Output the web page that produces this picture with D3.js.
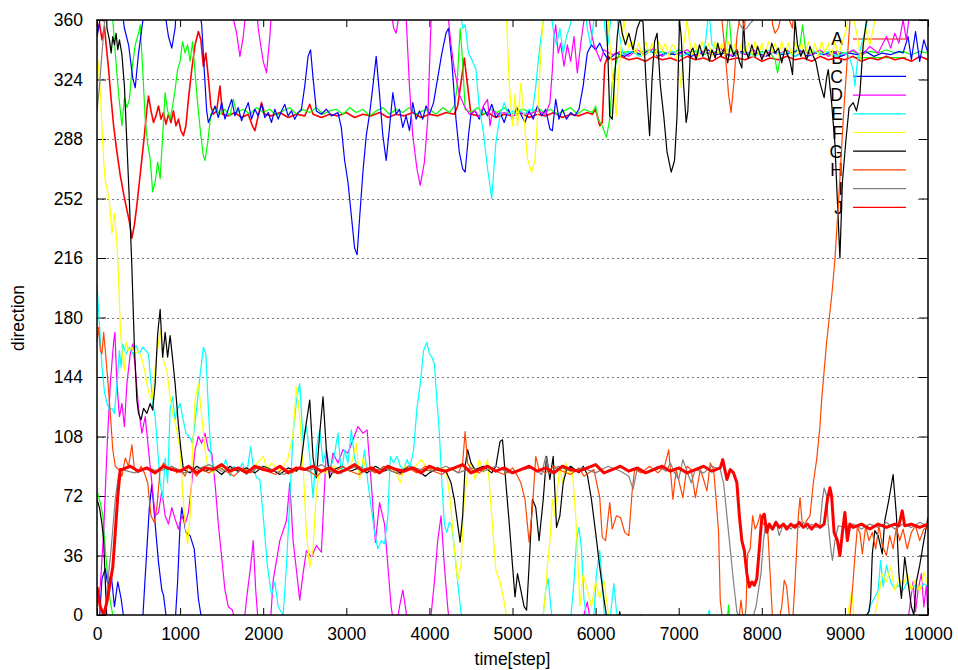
<!DOCTYPE html>
<html>
<head>
<meta charset="utf-8">
<script src="https://cdn.jsdelivr.net/npm/d3@7"></script>
<style>
  body { margin: 0; background: #fff; }
  text { font-family: "Liberation Sans", Arial, sans-serif; }
</style>
</head>
<body>
<div id="chart"></div>
<script>
// ---- data (direction values are kept continuous; values past 0/360 wrap around) ----
const seriesNames = ['A', 'B', 'C', 'D', 'E', 'F', 'G', 'H', 'I', 'J'];
const seriesColors = ['#ff0000', '#00ff00', '#0000ff', '#ff00ff', '#00ffff', '#ffff00', '#000000', '#ff4500', '#808080', '#ff0000'];
const xTicks = [0, 1000, 2000, 3000, 4000, 5000, 6000, 7000, 8000, 9000, 10000];
const yTicks = [0, 36, 72, 108, 144, 180, 216, 252, 288, 324, 360];

const seriesA = [[0,352],[30,358],[60,348],[90,356],[110,345],[140,330],[170,312],[200,296],[240,280],[280,266],[320,255],[360,245],[390,238],[420,228],[450,236],[480,248],[510,262],[540,276],[570,290],[600,306],[620,314],[650,305],[680,298],[710,302],[740,308],[770,300],[800,304],[830,297],[860,303],[890,298],[920,305],[950,296],[980,300],[1010,293],[1040,290],[1070,296],[1100,312],[1140,330],[1180,345],[1220,353],[1250,348],[1280,332],[1310,340],[1340,325],[1370,308],[1400,303],[1440,305],[1480,320],[1510,303],[1580,302],[1660,304],[1740,301],[1820,303],[1870,296],[1900,293],[1940,302],[1980,310],[2020,303],[2100,302],[2200,304],[2300,301],[2400,303],[2500,302],[2560,309],[2600,303],[2700,301],[2800,303],[2900,302],[3000,304],[3100,301],[3200,303],[3300,302],[3400,304],[3500,301],[3600,303],[3700,302],[3800,304],[3900,301],[4000,303],[4100,302],[4200,304],[4300,303],[4340,308],[4380,322],[4420,337],[4460,320],[4500,303],[4600,302],[4700,304],[4800,301],[4900,303],[5000,302],[5100,304],[5200,301],[5300,303],[5400,302],[5500,304],[5600,301],[5700,303],[5800,302],[5900,304],[5960,303],[6000,306],[6050,296],[6080,298],[6110,333],[6150,338],[6200,336],[6300,338],[6400,336],[6500,337],[6600,335],[6700,338],[6800,336],[6900,337],[7000,335],[7100,338],[7200,336],[7300,337],[7400,335],[7500,338],[7600,336],[7700,337],[7800,336],[7900,338],[8000,335],[8100,337],[8200,336],[8300,338],[8400,336],[8500,337],[8600,335],[8700,338],[8800,336],[8900,337],[9000,336],[9100,338],[9200,335],[9300,337],[9400,336],[9500,338],[9600,336],[9700,337],[9800,335],[9900,338],[10000,336]];

const seriesB = [[0,435],[40,428],[70,420],[100,400],[130,382],[160,368],[190,360],[220,340],[260,315],[300,296],[330,313],[360,307],[390,312],[420,330],[460,345],[500,352],[520,357],[550,330],[580,300],[610,285],[640,276],[670,256],[700,262],[730,274],[760,264],[790,290],[820,316],[850,305],[880,300],[910,308],[940,318],[970,330],[1000,335],[1030,347],[1060,340],[1090,345],[1120,335],[1150,347],[1180,328],[1210,310],[1250,290],[1280,278],[1300,275],[1330,285],[1370,303],[1420,307],[1480,303],[1540,306],[1600,302],[1640,312],[1680,304],[1760,306],[1840,303],[1920,307],[2000,304],[2080,306],[2160,302],[2240,305],[2320,307],[2400,303],[2480,306],[2560,304],[2640,307],[2720,303],[2800,305],[2880,306],[2960,303],[3040,307],[3120,304],[3200,306],[3280,302],[3360,305],[3440,307],[3520,303],[3600,306],[3680,304],[3760,307],[3840,303],[3920,305],[4000,306],[4080,303],[4160,307],[4240,304],[4300,308],[4330,318],[4370,355],[4400,335],[4430,306],[4500,304],[4580,307],[4660,303],[4740,306],[4820,304],[4900,307],[4980,303],[5060,305],[5140,306],[5220,303],[5300,307],[5380,304],[5460,306],[5540,303],[5620,305],[5700,307],[5780,303],[5860,306],[5960,304],[6000,308],[6030,300],[6080,296],[6130,289],[6170,300],[6200,322],[6250,335],[6290,340],[6400,341],[6500,339],[6600,342],[6700,340],[6800,341],[6900,339],[7000,342],[7100,340],[7200,341],[7300,339],[7400,341],[7500,340],[7560,342],[7600,366],[7640,342],[7700,340],[7800,341],[7900,339],[8000,341],[8100,340],[8160,336],[8190,328],[8230,340],[8300,341],[8400,340],[8460,345],[8490,357],[8530,341],[8600,340],[8700,341],[8800,339],[8900,341],[9000,340],[9100,341],[9200,339],[9300,341],[9400,340],[9500,342],[9600,340],[9700,341],[9800,339],[9900,341],[10000,340]];

const seriesC = [[0,350],[30,358],[60,382],[100,388],[130,378],[170,385],[210,365],[250,380],[290,370],[330,355],[380,345],[430,325],[460,319],[500,340],[553,360],[600,400],[630,425],[660,439],[700,415],[740,392],[780,375],[800,372],[830,360],[860,350],[900,343],[940,355],[970,380],[1000,415],[1020,425],[1070,410],[1120,408],[1170,400],[1220,370],[1260,357],[1290,330],[1320,305],[1340,298],[1380,303],[1420,308],[1460,301],[1500,310],[1540,300],[1580,306],[1620,312],[1660,302],[1700,307],[1740,299],[1780,305],[1820,310],[1860,300],[1900,306],[1940,302],[1980,309],[2020,301],[2060,304],[2100,298],[2140,306],[2180,300],[2220,305],[2260,309],[2300,302],[2340,305],[2380,300],[2420,304],[2460,306],[2500,320],[2540,338],[2570,342],[2600,325],[2640,305],[2700,303],[2760,306],[2820,302],[2900,304],[2940,295],[2980,275],[3020,262],[3060,242],[3100,222],[3130,218],[3160,240],[3200,268],[3240,290],[3280,303],[3320,320],[3360,338],[3400,315],[3440,290],[3480,275],[3520,295],[3560,316],[3600,303],[3640,306],[3680,295],[3720,302],[3760,293],[3800,310],[3840,300],[3880,305],[3920,300],[3960,308],[4000,303],[4050,310],[4100,325],[4150,340],[4200,352],[4230,355],[4270,335],[4320,300],[4360,280],[4400,270],[4430,268],[4470,290],[4500,303],[4550,305],[4600,300],[4650,307],[4700,302],[4750,309],[4800,301],[4850,304],[4900,298],[4950,306],[5000,300],[5050,307],[5100,303],[5150,298],[5200,305],[5250,300],[5300,308],[5350,302],[5400,306],[5450,294],[5480,293],[5520,312],[5560,300],[5600,306],[5650,300],[5700,304],[5750,302],[5800,306],[5850,320],[5900,340],[5950,345],[6000,342],[6050,346],[6100,340],[6150,336],[6250,340],[6350,338],[6450,341],[6550,339],[6650,342],[6750,338],[6850,340],[6950,339],[7050,341],[7150,338],[7250,340],[7350,342],[7450,339],[7550,340],[7650,338],[7750,341],[7850,339],[7950,340],[8050,338],[8150,341],[8250,339],[8350,340],[8450,342],[8550,338],[8650,340],[8750,339],[8850,341],[8950,338],[9050,340],[9150,339],[9250,341],[9350,338],[9450,340],[9550,339],[9650,341],[9700,340],[9760,350],[9800,336],[9850,353],[9900,335],[9950,348],[10000,340]];

const seriesD = [[0,5],[40,18],[80,50],[120,100],[160,140],[200,165],[215,171],[240,140],[270,120],[300,128],[330,114],[360,140],[400,158],[430,164],[460,150],[500,125],[540,110],[580,120],[620,100],[660,80],[700,60],[740,62],[780,75],[820,60],[860,55],[900,65],[940,58],[980,52],[1020,60],[1060,55],[1100,62],[1140,80],[1180,100],[1220,108],[1260,104],[1300,110],[1340,100],[1380,98],[1420,80],[1460,55],[1500,35],[1540,15],[1580,5],[1630,3],[1680,-8],[1720,-22],[1760,-10],[1800,10],[1850,30],[1880,45],[1910,15],[1940,-5],[2000,-25],[2040,-32],[2080,-10],[2120,21],[2200,45],[2280,57],[2320,80],[2360,45],[2440,9],[2480,25],[2520,39],[2580,35],[2640,42],[2700,38],[2760,100],[2800,85],[2840,98],[2900,92],[2960,100],[3020,98],[3080,106],[3140,114],[3200,110],[3250,112],[3300,80],[3350,44],[3400,68],[3460,55],[3500,30],[3540,5],[3570,-5],[3600,-8],[3640,5],[3680,15],[3720,2],[3760,-40],[3800,-70],[3850,-90],[3890,-100],[3940,-86],[3980,-60],[4000,-30],[4020,0],[4060,20],[4100,45],[4140,60],[4180,30],[4220,5],[4260,-15],[4300,-30],[4360,-45],[4420,-52],[4480,-57],[4550,-55],[4600,-59],[4650,-52],[4700,-48],[4730,-64],[4760,-55],[4820,-57],[4900,-56],[5000,-58],[5100,-56],[5200,-57],[5300,-55],[5400,-57],[5450,-50],[5480,-30],[5500,-10],[5520,-3],[5550,-20],[5580,-14],[5620,-28],[5660,-15],[5700,-25],[5740,-10],[5780,-32],[5820,-15],[5860,0],[5900,8],[5940,-5],[5980,-15],[6020,-20],[6060,-25],[6100,-18],[6200,-21],[6300,-19],[6400,-22],[6500,-18],[6600,-21],[6700,-17],[6800,-22],[6900,-19],[7000,-21],[7100,-18],[7200,-22],[7300,-19],[7400,-21],[7500,-17],[7600,-22],[7700,-19],[7800,-21],[7900,-18],[8000,-22],[8100,-19],[8200,-21],[8300,-18],[8400,-22],[8500,-19],[8600,-21],[8700,-18],[8800,-22],[8900,-19],[9000,-21],[9100,-18],[9200,-22],[9300,-16],[9400,-20],[9450,-15],[9500,-10],[9550,-17],[9600,-8],[9650,-14],[9700,0],[9740,-12],[9780,5],[9820,20],[9850,2],[9880,15],[9920,25],[9950,5],[9980,18],[10000,0]];

const seriesE = [[0,200],[30,175],[60,150],[90,135],[120,128],[150,124],[180,125],[210,122],[240,140],[270,160],[290,150],[310,164],[350,158],[390,162],[430,158],[470,163],[510,158],[550,162],[590,160],[620,158],[650,140],[680,125],[700,120],[730,100],[760,80],[790,71],[820,95],[850,80],[880,125],[910,132],[940,118],[970,125],[1000,128],[1030,120],[1070,110],[1110,108],[1150,104],[1200,125],[1240,145],[1280,162],[1310,158],[1340,125],[1370,98],[1400,86],[1450,90],[1500,88],[1550,94],[1600,84],[1650,90],[1700,86],[1750,92],[1800,85],[1850,102],[1880,90],[1920,83],[1960,82],[2000,60],[2050,30],[2100,12],[2140,20],[2180,5],[2240,0],[2280,30],[2320,70],[2360,110],[2400,130],[2440,140],[2480,105],[2520,114],[2560,96],[2600,71],[2640,100],[2680,112],[2720,92],[2760,100],[2800,88],[2850,95],[2900,110],[2940,85],[2980,100],[3020,92],[3060,112],[3100,95],[3140,88],[3180,85],[3220,100],[3260,80],[3300,65],[3340,50],[3380,40],[3420,45],[3460,43],[3500,60],[3530,96],[3570,92],[3610,96],[3650,90],[3690,88],[3730,94],[3770,90],[3810,100],[3850,125],[3890,140],[3930,160],[3970,165],[4000,158],[4030,156],[4060,152],[4090,130],[4120,110],[4150,80],[4180,55],[4210,50],[4240,56],[4270,54],[4300,40],[4340,20],[4380,2],[4400,-5],[4430,-3],[4470,-20],[4510,-24],[4560,-30],[4600,-53],[4650,-68],[4700,-90],[4750,-108],[4800,-74],[4850,-58],[4900,-50],[4950,-57],[5000,-55],[5050,-58],[5100,-55],[5150,-57],[5200,-54],[5240,-55],[5280,-40],[5320,-20],[5370,0],[5400,15],[5430,22],[5460,5],[5500,-9],[5530,-15],[5570,-5],[5610,-20],[5650,-10],[5700,-2],[5740,20],[5770,45],[5800,53],[5830,40],[5860,10],[5900,-5],[5940,-15],[5980,0],[6010,25],[6050,39],[6080,20],[6110,-5],[6150,-15],[6190,5],[6220,19],[6250,3],[6290,-10],[6330,-21],[6430,-19],[6530,-22],[6630,-20],[6730,-18],[6830,-21],[6930,-19],[7030,-22],[7130,-20],[7230,-18],[7300,-21],[7330,-10],[7350,0],[7370,3],[7400,-15],[7500,-20],[7600,-18],[7700,-21],[7800,-19],[7900,-22],[8000,-20],[8100,-18],[8200,-21],[8300,-19],[8400,-22],[8500,-20],[8600,-18],[8700,-21],[8800,-19],[8900,-22],[9000,-20],[9050,-22],[9100,-30],[9120,-40],[9150,-25],[9200,-15],[9250,-5],[9300,5],[9350,10],[9400,15],[9430,33],[9460,17],[9500,30],[9550,20],[9600,16],[9650,18],[9700,15],[9750,20],[9800,16],[9850,18],[9900,15],[9950,19],[10000,17]];

const seriesF = [[0,340],[20,330],[40,316],[60,295],[80,275],[100,262],[120,258],[150,250],[180,231],[210,243],[240,225],[260,203],[280,175],[300,160],[330,148],[350,165],[380,160],[420,162],[460,158],[500,160],[540,155],[580,146],[620,135],[660,130],[700,150],[760,172],[800,154],[840,148],[880,132],[920,120],[960,112],[1000,100],[1030,75],[1060,55],[1090,43],[1120,60],[1150,100],[1180,130],[1220,140],[1250,125],[1300,100],[1340,88],[1400,86],[1500,90],[1600,87],[1700,89],[1800,86],[1900,90],[2000,96],[2050,88],[2100,92],[2200,87],[2300,95],[2360,110],[2400,138],[2440,120],[2480,90],[2520,50],[2560,29],[2600,40],[2640,75],[2680,88],[2750,86],[2850,90],[2950,87],[3050,89],[3120,104],[3160,82],[3200,95],[3250,86],[3300,90],[3400,87],[3500,89],[3600,86],[3650,80],[3700,90],[3800,88],[3900,94],[4000,87],[4100,89],[4200,88],[4250,70],[4300,40],[4340,21],[4380,30],[4420,71],[4460,85],[4500,92],[4550,82],[4600,94],[4650,86],[4700,94],[4750,60],[4800,27],[4850,20],[4900,8],[4930,-1],[4960,-38],[5000,-64],[5030,-45],[5060,-64],[5100,-38],[5140,-60],[5180,-84],[5230,-92],[5270,-85],[5300,-60],[5330,-30],[5360,-5],[5390,10],[5420,29],[5450,45],[5480,70],[5510,60],[5540,75],[5570,90],[5600,80],[5640,92],[5680,85],[5720,88],[5760,60],[5790,30],[5810,5],[5850,25],[5900,15],[5950,5],[6000,20],[6050,10],[6100,21],[6150,2],[6180,-20],[6210,-40],[6250,-58],[6280,-30],[6310,-15],[6340,0],[6370,-10],[6400,-17],[6440,-13],[6480,-21],[6520,-14],[6560,-22],[6600,-13],[6640,-20],[6680,-14],[6720,-22],[6760,-13],[6800,-19],[6840,-14],[6880,-22],[6920,-15],[6950,-16],[7000,-28],[7030,-41],[7060,-15],[7100,0],[7130,-12],[7160,-21],[7200,-14],[7240,-22],[7280,-13],[7320,-20],[7360,-14],[7400,-22],[7440,-13],[7480,-20],[7520,-14],[7560,-22],[7600,-13],[7640,-21],[7680,-14],[7720,-22],[7760,-13],[7800,-20],[7840,-14],[7880,-22],[7920,-13],[7960,-21],[8000,-14],[8040,-22],[8080,-13],[8120,-20],[8160,-14],[8200,-22],[8240,-13],[8280,-21],[8320,-14],[8360,-22],[8400,-13],[8440,-20],[8480,-14],[8520,-22],[8560,-13],[8600,-21],[8640,-14],[8680,-22],[8720,-13],[8760,-20],[8800,-14],[8840,-22],[8880,-13],[8920,-21],[8960,-15],[9020,-5],[9050,5],[9080,14],[9110,0],[9150,-10],[9200,-25],[9250,-5],[9300,-15],[9350,-3],[9400,10],[9450,25],[9500,20],[9550,29],[9600,15],[9650,22],[9700,18],[9750,25],[9800,15],[9850,22],[9900,14],[9950,26],[10000,18]];

const seriesG = [[0,430],[30,425],[60,415],[80,405],[100,380],[120,355],[150,348],[170,340],[190,350],[210,345],[230,352],[250,342],[270,348],[300,339],[330,320],[360,285],[390,250],[420,210],[450,162],[480,130],[500,122],[530,118],[560,125],[600,122],[640,128],[670,124],[700,140],[730,170],[760,185],[790,156],[820,171],[850,156],[880,169],[910,155],[940,140],[980,115],[1010,100],[1040,88],[1120,86],[1200,90],[1300,87],[1400,89],[1500,85],[1600,90],[1700,87],[1800,89],[1900,86],[2000,90],[2100,88],[2200,85],[2300,89],[2400,87],[2450,90],[2500,110],[2560,130],[2600,95],[2640,83],[2680,110],[2720,132],[2760,100],[2800,83],[2850,88],[2950,90],[3050,87],[3150,89],[3250,86],[3350,90],[3450,87],[3550,89],[3650,86],[3750,90],[3850,88],[3950,84],[4000,86],[4100,89],[4200,87],[4260,80],[4300,70],[4340,55],[4370,44],[4400,60],[4430,90],[4460,100],[4500,92],[4550,88],[4650,90],[4750,86],[4800,90],[4850,105],[4880,106],[4920,80],[4960,56],[5000,30],[5030,11],[5060,25],[5100,15],[5140,5],[5170,3],[5200,30],[5240,70],[5280,65],[5320,45],[5370,70],[5410,96],[5450,82],[5490,96],[5530,53],[5570,60],[5610,80],[5650,88],[5700,90],[5750,88],[5800,86],[5850,90],[5900,85],[5950,70],[6000,50],[6050,29],[6100,10],[6130,0],[6150,-25],[6170,-58],[6200,-60],[6230,-35],[6260,-10],[6290,2],[6320,-8],[6360,-15],[6400,-8],[6450,-18],[6500,-5],[6540,0],[6570,-1],[6610,-40],[6650,-70],[6680,-35],[6710,-13],[6740,-8],[6780,-40],[6820,-58],[6860,-80],[6910,-92],[6950,-85],[6980,-58],[7010,0],[7030,-10],[7060,-40],[7090,-62],[7110,-55],[7140,-20],[7170,-17],[7210,-24],[7250,-15],[7290,-22],[7330,-16],[7370,-25],[7400,-18],[7440,-23],[7470,-14],[7510,-22],[7550,-17],[7590,-26],[7620,-15],[7660,-21],[7700,-18],[7730,-25],[7760,-29],[7780,0],[7800,-18],[7840,-23],[7880,-15],[7920,-22],[7950,-16],[8000,-24],[8050,-18],[8090,-22],[8120,-14],[8160,-20],[8200,-17],[8240,-26],[8280,-17],[8310,-21],[8340,-25],[8370,-33],[8400,0],[8430,-15],[8470,-22],[8500,-18],[8540,-24],[8580,-16],[8620,-22],[8650,-25],[8700,-38],[8750,-47],[8780,-35],[8800,-30],[8840,-50],[8880,-75],[8910,-110],[8940,-144],[8970,-98],[9010,-74],[9050,-53],[9100,-50],[9140,-55],[9180,-45],[9220,-15],[9260,0],[9290,2],[9310,10],[9330,37],[9360,51],[9400,48],[9450,37],[9480,57],[9530,70],[9580,85],[9620,60],[9650,25],[9680,10],[9720,35],[9760,20],[9800,5],[9830,0],[9860,20],[9900,30],[9950,45],[10000,59]];

const seriesH = [[0,165],[20,174],[40,160],[60,158],[80,171],[100,160],[130,142],[160,122],[190,100],[220,90],[260,88],[300,84],[340,95],[380,90],[420,103],[450,88],[490,86],[530,90],[570,86],[610,80],[650,60],[690,56],[720,65],[760,88],[800,92],[850,88],[900,90],[960,86],[1000,88],[1060,84],[1100,90],[1200,84],[1250,88],[1350,86],[1450,90],[1550,87],[1650,84],[1750,89],[1850,86],[1950,90],[2050,87],[2150,85],[2250,89],[2350,86],[2450,90],[2550,87],[2650,84],[2750,89],[2850,86],[2950,90],[3050,87],[3150,85],[3250,89],[3350,86],[3450,90],[3550,87],[3650,85],[3750,89],[3850,86],[3950,90],[4050,87],[4150,85],[4250,89],[4350,86],[4400,92],[4430,111],[4460,92],[4500,88],[4600,86],[4700,90],[4800,87],[4900,85],[5000,89],[5050,85],[5100,80],[5150,70],[5200,44],[5240,65],[5280,96],[5320,88],[5400,86],[5500,90],[5600,87],[5700,85],[5800,89],[5860,84],[5920,86],[5980,88],[6050,71],[6080,47],[6120,45],[6170,68],[6200,52],[6250,60],[6300,59],[6350,50],[6400,48],[6440,75],[6470,88],[6550,86],[6650,90],[6750,86],[6830,90],[6880,100],[6930,70],[6970,88],[7050,71],[7100,90],[7150,88],[7200,71],[7260,88],[7300,82],[7340,75],[7380,92],[7420,88],[7450,70],[7480,50],[7500,9],[7520,0],[7560,-20],[7600,-45],[7630,-56],[7670,-35],[7700,-10],[7730,0],[7750,9],[7770,0],[7790,-5],[7810,5],[7830,37],[7860,40],[7890,60],[7920,52],[7950,55],[7980,61],[8020,55],[8070,53],[8100,25],[8130,-3],[8160,-8],[8200,-5],[8240,5],[8270,21],[8300,17],[8330,0],[8370,-5],[8400,20],[8440,60],[8460,71],[8490,53],[8520,55],[8550,58],[8580,60],[8620,80],[8660,94],[8700,114],[8720,130],[8780,165],[8845,195],[8880,215],[8940,264],[8980,300],[9020,330],[9060,359],[9090,375],[9120,395],[9150,413],[9180,410],[9210,397],[9250,414],[9290,405],[9330,410],[9370,400],[9410,414],[9450,402],[9500,396],[9540,408],[9580,400],[9620,413],[9660,405],[9700,412],[9750,400],[9800,410],[9850,414],[9900,405],[9950,412],[10000,413]];

const seriesI = [[0,-55],[30,-40],[60,-20],[80,-8],[100,5],[130,20],[170,40],[220,70],[260,85],[300,88],[450,86],[600,89],[750,87],[900,90],[1050,86],[1200,88],[1350,91],[1500,87],[1650,89],[1800,86],[1950,90],[2100,88],[2250,85],[2400,89],[2550,87],[2700,91],[2850,86],[3000,88],[3150,90],[3300,87],[3450,89],[3600,86],[3750,90],[3900,88],[4050,87],[4200,90],[4350,86],[4500,89],[4650,87],[4800,90],[4950,86],[5100,88],[5250,89],[5350,85],[5400,96],[5450,86],[5550,90],[5700,87],[5850,89],[6000,86],[6150,90],[6300,87],[6400,84],[6450,76],[6500,88],[6600,86],[6750,90],[6850,87],[6900,92],[6950,86],[7000,82],[7050,94],[7100,87],[7150,80],[7200,88],[7300,86],[7400,90],[7500,88],[7540,80],[7580,60],[7620,40],[7660,20],[7700,2],[7740,-3],[7780,-6],[7820,-5],[7860,-2],[7900,0],[7930,5],[7960,15],[7990,25],[8020,45],[8050,56],[8070,54],[8120,52],[8170,57],[8210,48],[8260,55],[8300,54],[8350,52],[8400,55],[8450,53],[8500,56],[8550,52],[8600,55],[8650,53],[8700,54],[8730,70],[8750,77],[8780,72],[8800,55],[8830,40],[8850,33],[8880,45],[8920,54],[9000,53],[9100,55],[9200,52],[9300,55],[9400,53],[9500,56],[9600,52],[9700,55],[9800,53],[9900,56],[10000,54]];

const seriesJ = [[0,17],[40,5],[80,0],[120,8],[160,20],[190,29],[220,50],[250,72],[280,88],[300,88],[400,90],[500,87],[600,89],[700,86],[800,90],[900,88],[1000,87],[1100,90],[1200,86],[1300,89],[1400,88],[1500,91],[1600,87],[1700,89],[1800,86],[1900,90],[2000,88],[2100,87],[2200,90],[2300,86],[2400,89],[2500,88],[2600,90],[2700,87],[2800,89],[2900,86],[3000,88],[3100,91],[3200,87],[3300,89],[3400,86],[3500,90],[3600,88],[3700,87],[3800,89],[3900,86],[4000,90],[4100,88],[4200,87],[4300,89],[4400,91],[4500,86],[4600,88],[4700,90],[4800,87],[4900,89],[5000,86],[5100,88],[5200,90],[5300,87],[5400,89],[5500,86],[5600,90],[5700,88],[5800,87],[5900,89],[6000,91],[6100,86],[6200,88],[6300,90],[6400,87],[6500,89],[6600,86],[6700,88],[6800,90],[6900,87],[7000,89],[7100,86],[7200,88],[7300,90],[7400,87],[7500,89],[7530,94],[7580,82],[7620,88],[7660,86],[7700,80],[7730,60],[7760,45],[7790,39],[7820,25],[7850,17],[7880,20],[7910,18],[7940,22],[7970,40],[8000,59],[8030,61],[8060,50],[8090,55],[8130,52],[8170,56],[8210,53],[8260,55],[8300,52],[8350,55],[8400,53],[8450,56],[8500,53],[8550,55],[8600,52],[8650,55],[8700,53],[8750,55],[8790,70],[8820,77],[8840,72],[8870,50],[8910,45],[8940,36],[8970,50],[9000,62],[9030,45],[9060,55],[9100,53],[9200,55],[9300,52],[9400,55],[9500,53],[9600,55],[9650,54],[9690,63],[9720,54],[9800,55],[9900,53],[10000,55]];

const allSeries = [seriesA, seriesB, seriesC, seriesD, seriesE, seriesF, seriesG, seriesH, seriesI, seriesJ];
const strokeWidths = [1.6, 1.2, 1.2, 1.2, 1.2, 1.2, 1.2, 1.2, 1.2, 3];

// ---- chart ----
const width = 958;
const height = 670;
const plot = {left: 97, right: 928, top: 20, bottom: 615};
const fontSize = '17.5px';

const svg = d3.select('#chart')
  .append('svg')
  .attr('width', width)
  .attr('height', height)
  .style('background', '#fff');

const xScale = d3.scaleLinear().domain([0, 10000]).range([plot.left, plot.right]);
const yScale = d3.scaleLinear().domain([0, 360]).range([plot.bottom, plot.top]);

// horizontal dotted grid
svg.append('g')
  .selectAll('line')
  .data(yTicks.filter(t => t > 0 && t < 360))
  .join('line')
  .attr('x1', plot.left)
  .attr('x2', plot.right)
  .attr('y1', d => Math.round(yScale(d)) + 0.5)
  .attr('y2', d => Math.round(yScale(d)) + 0.5)
  .attr('stroke', '#7a7a7a')
  .attr('stroke-dasharray', '2,3');

// axes, ticks pointing inward on all four sides
const styleAxis = g => {
  g.select('.domain').remove();
  g.selectAll('line').attr('stroke', '#000');
  g.selectAll('text').style('font-size', fontSize).style('font-family', '"Liberation Sans", Arial, sans-serif').attr('fill', '#000');
};

svg.append('g')
  .attr('transform', `translate(${plot.left}, 0)`)
  .call(d3.axisLeft(yScale).tickValues(yTicks).tickSize(-9).tickPadding(14).tickFormat(d3.format('d')))
  .call(styleAxis);

svg.append('g')
  .attr('transform', `translate(${plot.right}, 0)`)
  .call(d3.axisRight(yScale).tickValues(yTicks).tickSize(-9).tickFormat(''))
  .call(styleAxis);

svg.append('g')
  .attr('transform', `translate(0, ${plot.bottom})`)
  .call(d3.axisBottom(xScale).tickValues(xTicks).tickSize(-7).tickPadding(13).tickFormat(d3.format('d')))
  .call(styleAxis);

svg.append('g')
  .attr('transform', `translate(0, ${plot.top})`)
  .call(d3.axisTop(xScale).tickValues(xTicks).tickSize(-7).tickFormat(''))
  .call(styleAxis);

// key area (grid is not drawn behind the key)
const keyTop = 39;
const keyStep = 18.7;
svg.append('rect')
  .attr('x', 826).attr('y', 27)
  .attr('width', 92).attr('height', 189)
  .attr('fill', '#fff');

const key = svg.append('g');
seriesNames.forEach((name, i) => {
  const yy = keyTop + i * keyStep;
  key.append('text')
    .attr('x', 843)
    .attr('y', yy)
    .attr('dy', '0.36em')
    .attr('text-anchor', 'end')
    .style('font-size', fontSize)
    .attr('fill', '#000')
    .text(name);
  key.append('line')
    .attr('x1', 853).attr('x2', 906)
    .attr('y1', yy).attr('y2', yy)
    .attr('stroke', seriesColors[i])
    .attr('stroke-width', 1.2);
});

// data lines, clipped to the plot; each drawn at -360/0/+360 so wrapped parts show
svg.append('clipPath')
  .attr('id', 'plotClip')
  .append('rect')
  .attr('x', plot.left).attr('y', plot.top)
  .attr('width', plot.right - plot.left)
  .attr('height', plot.bottom - plot.top);

const dataLayer = svg.append('g').attr('clip-path', 'url(#plotClip)');

allSeries.forEach((series, i) => {
  [-360, 0, 360].forEach(offset => {
    const line = d3.line()
      .x(d => xScale(d[0]))
      .y(d => yScale(d[1] + offset));
    dataLayer.append('path')
      .datum(series)
      .attr('d', line)
      .attr('fill', 'none')
      .attr('stroke', seriesColors[i])
      .attr('stroke-width', strokeWidths[i])
      .attr('stroke-linejoin', 'round');
  });
});

// frame
svg.append('rect')
  .attr('x', plot.left).attr('y', plot.top)
  .attr('width', plot.right - plot.left)
  .attr('height', plot.bottom - plot.top)
  .attr('fill', 'none')
  .attr('stroke', '#000')
  .attr('stroke-width', 1.5);

// axis labels
svg.append('text')
  .attr('transform', 'translate(24, 318) rotate(-90)')
  .attr('text-anchor', 'middle')
  .style('font-size', fontSize)
  .attr('fill', '#000')
  .text('direction');

svg.append('text')
  .attr('x', (plot.left + plot.right) / 2)
  .attr('y', 665)
  .attr('text-anchor', 'middle')
  .style('font-size', fontSize)
  .attr('fill', '#000')
  .text('time[step]');
</script>
</body>
</html>
